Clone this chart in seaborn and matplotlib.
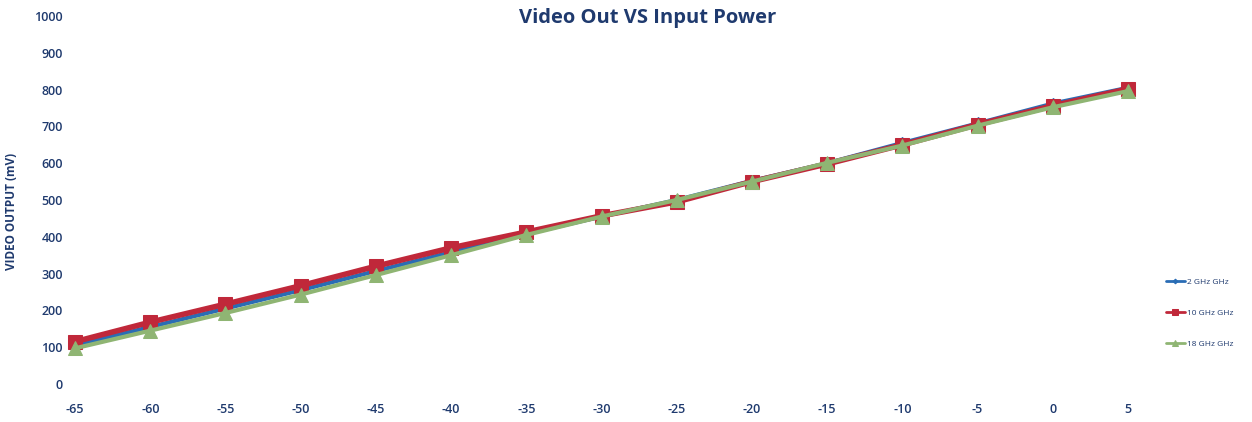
import pandas as pd
import matplotlib.pyplot as plt
import seaborn as sns

# input power (dBm)
power = [-65, -60, -55, -50, -45, -40, -35, -30, -25, -20, -15, -10, -5, 0, 5]

# video output (mV) per frequency
ghz_2 = [105, 155, 205, 255, 307, 358, 408, 455, 500, 552, 600, 655, 708, 762, 805]
ghz_10 = [115, 168, 217, 267, 320, 370, 413, 457, 495, 550, 598, 650, 705, 756, 802]
ghz_18 = [97, 145, 193, 243, 296, 350, 405, 455, 500, 550, 601, 648, 702, 752, 796]

series_names = ["2 GHz GHz", "10 GHz GHz", "18 GHz GHz"]

df = pd.concat([
    pd.DataFrame({"power": power, "mv": vals, "series": name})
    for name, vals in zip(series_names, [ghz_2, ghz_10, ghz_18])
])

TXT = "#1f3a6e"
colors = {"2 GHz GHz": "#2a6db5", "10 GHz GHz": "#c0283a", "18 GHz GHz": "#8fb573"}
markers = {"2 GHz GHz": "D", "10 GHz GHz": "s", "18 GHz GHz": "^"}
sizes = {"2 GHz GHz": 6, "10 GHz GHz": 10, "18 GHz GHz": 10}
widths = {"2 GHz GHz": 3, "10 GHz GHz": 4, "18 GHz GHz": 3}

sns.set_style("white")
plt.rcParams["font.family"] = ["Open Sans", "DejaVu Sans"]
plt.rcParams["axes.unicode_minus"] = False

fig = plt.figure(figsize=(12.52, 4.22), dpi=100)
ax = fig.add_axes([60 / 1252, 38 / 422, 1085 / 1252, 368 / 422])

for name in series_names:
    sub = df[df["series"] == name]
    sns.lineplot(
        data=sub, x="power", y="mv", ax=ax,
        color=colors[name], marker=markers[name], markersize=sizes[name],
        linewidth=widths[name], markeredgecolor=colors[name],
        label=name,
    )

ax.set_xlim(-66.0, 6.13)
ax.set_ylim(0, 1000)
ax.set_xticks(power)
ax.set_yticks(range(0, 1001, 100))
ax.tick_params(axis="y", length=0, labelsize=9, labelcolor=TXT, pad=-2)
ax.tick_params(axis="x", length=0, labelsize=9, labelcolor=TXT, pad=14)
for lbl in ax.get_xticklabels() + ax.get_yticklabels():
    lbl.set_fontweight("semibold")
for s in ax.spines.values():
    s.set_visible(False)

ax.set_xlabel("")
ax.set_ylabel("VIDEO OUTPUT (mV)", fontsize=8.5, color=TXT, fontweight="bold")
ax.yaxis.set_label_coords(18 / 1252, 0.5, transform=fig.transFigure)

fig.text(648 / 1252, 1 - 18 / 422, "Video Out VS Input Power", ha="center", va="center",
         fontsize=14.5, fontweight="bold", color=TXT)

leg = ax.legend(loc="center left", bbox_to_anchor=(1158 / 1252, 1 - 313 / 422),
                bbox_transform=fig.transFigure, frameon=False, fontsize=6,
                labelspacing=2.8, handlelength=2.3, handletextpad=0.3, markerscale=0.4)
for t in leg.get_texts():
    t.set_color(TXT)
for h in leg.get_lines():
    h.set_linewidth(2)

fig.savefig("out.png", dpi=100)
